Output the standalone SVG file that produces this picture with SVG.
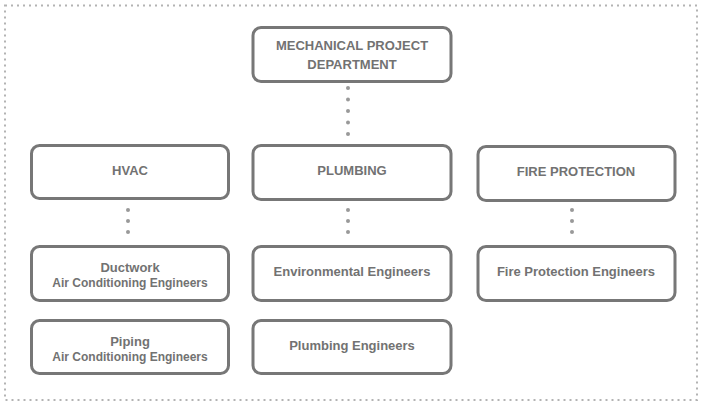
<svg xmlns="http://www.w3.org/2000/svg" width="703" height="405" viewBox="0 0 703 405">
<style>
.box{fill:#fff;stroke:#777;stroke-width:3}
.t{font-family:"Liberation Sans",Arial,sans-serif;font-weight:bold;fill:#727272;text-anchor:middle}
.l{font-size:13px}
.s{font-size:12px}
.dot{fill:#999}
</style>
<rect x="5" y="5.5" width="692" height="394.5" fill="#fff" stroke="#b3b3b3" stroke-width="2" stroke-dasharray="2 4"/>
<g id="connectors">
<g class="dot">
<circle cx="348" cy="88" r="2"/><circle cx="348" cy="99.5" r="2"/><circle cx="348" cy="111" r="2"/><circle cx="348" cy="122.5" r="2"/><circle cx="348" cy="134" r="2"/>
<circle cx="128" cy="210" r="2"/><circle cx="128" cy="221" r="2"/><circle cx="128" cy="232" r="2"/>
<circle cx="348" cy="210" r="2"/><circle cx="348" cy="221" r="2"/><circle cx="348" cy="232" r="2"/>
<circle cx="572" cy="210" r="2"/><circle cx="572" cy="221" r="2"/><circle cx="572" cy="232" r="2"/>
</g>
</g>
<g id="dept">
<rect class="box" x="253" y="27.5" width="198" height="54" rx="8"/>
<text class="t l" x="352" y="50">MECHANICAL PROJECT</text>
<text class="t l" x="352" y="69">DEPARTMENT</text>
</g>
<g id="hvac">
<rect class="box" x="31.5" y="145.5" width="197" height="53" rx="8"/>
<text class="t l" x="130" y="175">HVAC</text>
</g>
<g id="plumbing">
<rect class="box" x="253" y="145.5" width="198" height="54" rx="8"/>
<text class="t l" x="352" y="175">PLUMBING</text>
</g>
<g id="fire">
<rect class="box" x="478" y="146.5" width="197" height="54" rx="8"/>
<text class="t l" x="576" y="176">FIRE PROTECTION</text>
</g>
<g id="ductwork">
<rect class="box" x="31.5" y="246.5" width="197" height="54" rx="8"/>
<text class="t l" x="130" y="272">Ductwork</text>
<text class="t s" x="130" y="287">Air Conditioning Engineers</text>
</g>
<g id="piping">
<rect class="box" x="31.5" y="320.5" width="197" height="53" rx="8"/>
<text class="t l" x="130" y="346">Piping</text>
<text class="t s" x="130" y="361">Air Conditioning Engineers</text>
</g>
<g id="environmental">
<rect class="box" x="253" y="246.5" width="198" height="54" rx="8"/>
<text class="t l" x="352" y="276">Environmental Engineers</text>
</g>
<g id="plumbing-eng">
<rect class="box" x="253" y="320.5" width="198" height="53" rx="8"/>
<text class="t l" x="352" y="350">Plumbing Engineers</text>
</g>
<g id="fire-eng">
<rect class="box" x="478" y="246.5" width="197" height="54" rx="8"/>
<text class="t l" x="576" y="276">Fire Protection Engineers</text>
</g>
</svg>
